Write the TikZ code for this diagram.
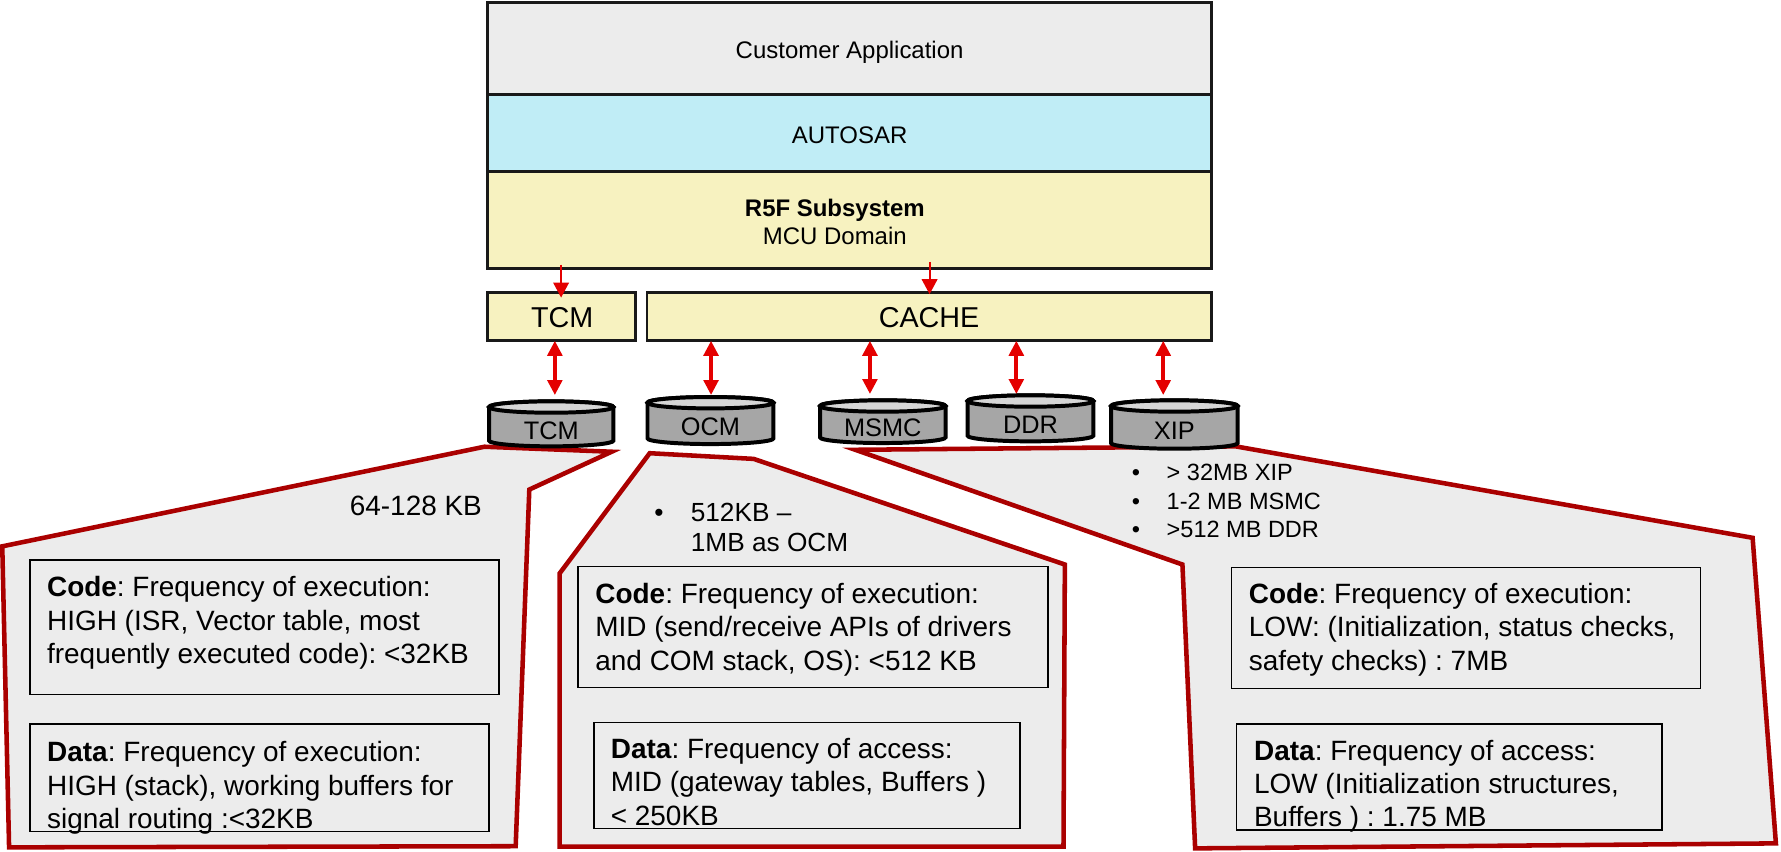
\documentclass[tikz,border=0pt]{standalone}
\usepackage{fontspec}
\setmainfont{Liberation Sans}
\usetikzlibrary{arrows.meta}
\frenchspacing
\definecolor{calred}{RGB}{170,0,0}
\definecolor{arrred}{RGB}{228,0,0}
\definecolor{lgray}{RGB}{236,236,236}
\definecolor{cyanfill}{RGB}{192,237,246}
\definecolor{yelfill}{RGB}{247,242,192}
\definecolor{cylbody}{RGB}{166,166,166}
\definecolor{cyltop}{RGB}{214,214,214}
\definecolor{edgecol}{RGB}{25,25,25}
\newcommand\setfs[2]{\fontsize{#1pt}{#2pt}\selectfont}
\newcommand\fstrut{\rule{0pt}{0.8em}}
\newcommand\mycyl[7]{%
  \filldraw[cylline, fill=cylbody] (#2-#3,#4) -- (#2-#3,#5)
    arc[start angle=180,end angle=360,x radius=#3pt,y radius=5pt] -- (#2+#3,#4)
    arc[start angle=0,end angle=180,x radius=#3pt,y radius=5pt] -- cycle;
  \filldraw[cylline, fill=cyltop] (#2,#4) ellipse[x radius=#3pt, y radius=5pt];
  \node[cyllabel] (#1) at (#2,#7) {#6};
}
\tikzset{
  callout/.style={draw=calred, fill=lgray, line width=4pt, line join=miter},
  tbox/.style={draw=black, line width=1.3pt, inner sep=0pt, outer sep=0pt, anchor=north west},
  btext/.style={font=\setfs{24.6}{29.3}, align=left, inner sep=0pt, anchor=north west},
  stackbox/.style={draw=edgecol, line width=2.6pt, inner sep=0pt, outer sep=0pt, anchor=north west},
  stacktext/.style={font=\setfs{21.1}{25}, inner sep=0pt, anchor=base},
  memtext/.style={font=\setfs{25.3}{30}, inner sep=0pt, anchor=base},
  cylline/.style={draw=black, line width=3.5pt},
  cyllabel/.style={font=\setfs{22.3}{26}, inner sep=0pt, anchor=base},
  thinarr/.style={draw=arrred, line width=1.7pt, -{Triangle[length=13.2pt,width=13.7pt]}},
  dblarr/.style={draw=arrred, line width=3.5pt, {Triangle[length=13.2pt,width=12.8pt]}-{Triangle[length=13.2pt,width=12.8pt]}}
}
\begin{document}
\begin{tikzpicture}[x=1pt,y=-1pt]
\useasboundingbox (0,0) rectangle (1568,750);
% callouts
\filldraw[callout] (2,481) -- (426.5,393.3) -- (538.5,397.7) -- (466,431) -- (454,745) -- (8,746) -- cycle;
\filldraw[callout] (572,399) -- (663.5,404) -- (937.5,497) -- (936.3,745.4) -- (492.7,745.4) -- (492.7,504.8) -- cycle;
\filldraw[callout] (753,396) -- (1088,393) -- (1543,473.5) -- (1563.5,742.5) -- (1052.2,746.9) -- (1041,497) -- cycle;
% text boxes
\node[tbox, minimum width=413.1pt, minimum height=118.3pt] (lcode) at (26.3,493) {};
\node[tbox, minimum width=404.1pt, minimum height=94.8pt] (ldata) at (26.3,637.4) {};
\node[tbox, minimum width=413.8pt, minimum height=106.2pt] (mcode) at (508.8,498.9) {};
\node[tbox, minimum width=374.8pt, minimum height=93pt] (mdata) at (523,636.3) {};
\node[tbox, minimum width=412.8pt, minimum height=106.5pt] (rcode) at (1084.4,499.5) {};
\node[tbox, minimum width=374.6pt, minimum height=93.4pt] (rdata) at (1088.6,637.4) {};
\node[btext] (lcodet) at (41.3,505.6) {\fstrut\textbf{Code}: Frequency of execution:\\HIGH (ISR, Vector table, most\\frequently executed code): <32KB};
\node[btext] (ldatat) at (41.3,650.9) {\fstrut\textbf{Data}: Frequency of execution:\\HIGH (stack), working buffers for\\signal routing :<32KB};
\node[btext] (mcodet) at (524,511.5) {\fstrut\textbf{Code}: Frequency of execution:\\MID (send/receive APIs of drivers\\and COM stack, OS): <512 KB};
\node[btext] (mdatat) at (537.6,648) {\fstrut\textbf{Data}: Frequency of access:\\MID (gateway tables, Buffers )\\< 250KB};
\node[btext] (rcodet) at (1099.3,511.5) {\fstrut\textbf{Code}: Frequency of execution:\\LOW: (Initialization, status checks,\\safety checks) : 7MB};
\node[btext] (rdatat) at (1103.9,649.4) {\fstrut\textbf{Data}: Frequency of access:\\LOW (Initialization structures,\\Buffers ) : 1.75 MB};
% size notes
\node[font=\setfs{24.6}{29.3}, inner sep=0pt, anchor=base west] (tcmsize) at (307.8,453.4) {64-128 KB};
\node[font=\setfs{23.1}{26.4}, align=left, inner sep=0pt, anchor=north west] (ocmsize) at (576,440.8)
  {\fstrut\makebox[32pt][l]{•}512KB –\\\hspace*{32pt}1MB as OCM};
\node[font=\setfs{20.7}{25}, align=left, inner sep=0pt, anchor=north west] (extsize) at (996.4,406.6)
  {\fstrut\makebox[30.6pt][l]{•}> 32MB XIP\\\makebox[30.6pt][l]{•}1-2 MB MSMC\\\makebox[30.6pt][l]{•}>512 MB DDR};
% top stack
\node[stackbox, fill=lgray, minimum width=638pt, minimum height=81.1pt] (cust) at (429,2.5) {};
\node[stackbox, fill=cyanfill, minimum width=638pt, minimum height=67.4pt] (autosar) at (429,83.6) {};
\node[stackbox, fill=yelfill, minimum width=638pt, minimum height=85pt] (r5f) at (429,151) {};
\node[stacktext] (tcust) at (748,51.4) {Customer Application};
\node[stacktext] (tauto) at (748,126.2) {AUTOSAR};
\node[stacktext] (tr5f) at (735,190.8) {\textbf{R5F Subsystem}};
\node[stacktext] (tmcu) at (735,215.1) {MCU Domain};
\node[stackbox, fill=yelfill, minimum width=129.7pt, minimum height=42.6pt] (tcmb) at (429.6,257.4) {};
\node[stackbox, fill=yelfill, minimum width=497.2pt, minimum height=42.6pt] (cache) at (569.6,257.4) {};
\node[memtext] (ttcm) at (495,288.2) {TCM};
\node[memtext] (tcache) at (818,288.2) {CACHE};
% cylinders
\mycyl{ctcm}{485.3}{54.75}{358.35}{387.95}{TCM}{386.5}
\mycyl{cocm}{625.5}{55.45}{354.55}{385.95}{OCM}{383}
\mycyl{cmsmc}{777.2}{55.25}{357.45}{385.05}{MSMC}{384}
\mycyl{cddr}{907.2}{55.4}{353.05}{383.55}{DDR}{381.5}
\mycyl{cxip}{1033.9}{55.75}{357.45}{390.05}{XIP}{386.5}
% arrows
\coordinate (s1) at (494,233);
\coordinate (s2) at (818.4,230.6);
\draw[thinarr, shorten >=-4.6pt] (s1) -- (s1 |- tcmb.north);
\draw[thinarr, shorten >=-1.6pt] (s2) -- (s2 |- cache.north);
\coordinate (e1) at (488.5,347.8);
\coordinate (e2) at (626,347.8);
\coordinate (e3) at (765.9,346.9);
\coordinate (e4) at (894.8,346.9);
\coordinate (e5) at (1024.1,347.8);
\draw[dblarr] (e1 |- tcmb.south) -- (e1);
\draw[dblarr] (e2 |- cache.south) -- (e2);
\draw[dblarr] (e3 |- cache.south) -- (e3);
\draw[dblarr] (e4 |- cache.south) -- (e4);
\draw[dblarr] (e5 |- cache.south) -- (e5);
\end{tikzpicture}
\end{document}
